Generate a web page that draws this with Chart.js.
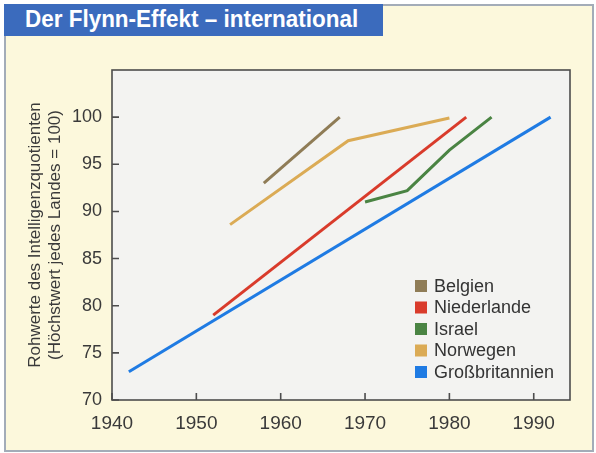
<!DOCTYPE html>
<html>
<head>
<meta charset="utf-8">
<script src="https://cdn.jsdelivr.net/npm/chart.js@4"></script>
<style>
  body { margin: 0; background: #ffffff; }
  #wrap { position: relative; width: 596px; height: 453px; overflow: hidden; }
  #panel { position: absolute; left: 4px; top: 4px; width: 586px; height: 444px;
           background: #fcf8dc; border: 2px solid #a3acb8; }
  #titlebar { position: absolute; left: 4px; top: 4px; width: 379px; height: 32px;
              background: #3b6bbd; }
  #titletext { position: absolute; left: 25px; top: 6px; color: #ffffff;
               font: bold 23px "Liberation Sans", Arial, sans-serif; white-space: nowrap;
               transform-origin: left top; }
  canvas { position: absolute; left: 0; top: 0; }
</style>
</head>
<body>
<div id="wrap">
  <div id="panel"></div>
  <div id="titlebar"></div>
  <div id="titletext">Der Flynn-Effekt – international</div>
  <canvas id="grafico" width="596" height="453"></canvas>
</div>
<script>
// Daten
const laender = ['Belgien', 'Niederlande', 'Israel', 'Norwegen', 'Großbritannien'];
const farben = ['#8f7c56', '#d93b2b', '#4a8443', '#dbab55', '#1f7be3'];

const belgienJahre = [1958, 1967];
const belgienWerte = [93, 100];
const niederlandeJahre = [1952, 1982];
const niederlandeWerte = [79, 100];
const israelJahre = [1970, 1975, 1980, 1985];
const israelWerte = [91, 92.2, 96.5, 100];
const norwegenJahre = [1954, 1968, 1980];
const norwegenWerte = [88.6, 97.5, 99.9];
const gbJahre = [1942, 1992];
const gbWerte = [73, 100];

const xTicks = [1940, 1950, 1960, 1970, 1980, 1990];
const yTicks = [70, 75, 80, 85, 90, 95, 100];

// Titel auf die Breite der Vorlage bringen
const titel = document.getElementById('titletext');
titel.style.transform = `scaleX(${333 / titel.offsetWidth})`;

const punkte = (jahre, werte) => jahre.map((j, i) => ({ x: j, y: werte[i] }));
const serien = [
  punkte(belgienJahre, belgienWerte),
  punkte(niederlandeJahre, niederlandeWerte),
  punkte(israelJahre, israelWerte),
  punkte(norwegenJahre, norwegenWerte),
  punkte(gbJahre, gbWerte)
];

// Hintergrund, Rahmen und nach innen zeigende Striche
const rahmenPlugin = {
  id: 'rahmen',
  beforeDatasetsDraw(chart) {
    const { ctx, chartArea: a } = chart;
    ctx.save();
    ctx.fillStyle = '#f3f3f1';
    ctx.fillRect(a.left, a.top, a.right - a.left, a.bottom - a.top);
    ctx.restore();
  },
  afterDraw(chart) {
    const { ctx, chartArea: a, scales } = chart;
    ctx.save();
    ctx.strokeStyle = '#4d4d4d';
    ctx.lineWidth = 1.6;
    ctx.strokeRect(a.left, a.top, a.right - a.left, a.bottom - a.top);
    ctx.beginPath();
    xTicks.forEach(t => {
      const px = scales.x.getPixelForValue(t);
      ctx.moveTo(px, a.bottom);
      ctx.lineTo(px, a.bottom - 7);
    });
    yTicks.forEach(t => {
      const py = scales.y.getPixelForValue(t);
      ctx.moveTo(a.left, py);
      ctx.lineTo(a.left + 7, py);
    });
    ctx.stroke();

    // Legende im Diagramm unten rechts
    ctx.font = '18px "Liberation Sans", Arial, sans-serif';
    ctx.textBaseline = 'middle';
    chart.data.datasets.forEach((ds, i) => {
      const y = a.bottom - 114 + i * 21.5;
      const x = a.right - 155;
      ctx.fillStyle = ds.borderColor;
      ctx.fillRect(x, y - 6, 12, 12);
      ctx.fillStyle = '#333333';
      ctx.fillText(ds.label, x + 19, y + 1);
    });
    ctx.restore();
  }
};

const ctx = document.getElementById('grafico').getContext('2d');
new Chart(ctx, {
  type: 'line',
  data: {
    datasets: laender.map((name, i) => ({
      label: name,
      data: serien[i],
      borderColor: farben[i],
      backgroundColor: farben[i],
      borderWidth: 3,
      pointRadius: 0,
      fill: false,
      tension: 0
    }))
  },
  options: {
    responsive: false,
    animation: false,
    layout: { padding: { top: 70, right: 26, left: 0, bottom: 0 } },
    plugins: {
      legend: { display: false },
      tooltip: { enabled: false }
    },
    scales: {
      x: {
        type: 'linear',
        min: 1940,
        max: 1994.3,
        afterFit: s => { s.height = 53; },
        afterBuildTicks: s => { s.ticks = xTicks.map(v => ({ value: v })); },
        grid: { display: false, drawTicks: false },
        border: { display: false },
        ticks: {
          padding: 12,
          color: '#3a3a3a',
          font: { family: '"Liberation Sans", Arial, sans-serif', size: 19 },
          callback: v => String(v)
        }
      },
      y: {
        min: 70,
        max: 105,
        afterFit: s => { s.width = 112; },
        afterBuildTicks: s => { s.ticks = yTicks.map(v => ({ value: v })); },
        grid: { display: false, drawTicks: false },
        border: { display: false },
        ticks: {
          padding: 10,
          color: '#3a3a3a',
          font: { family: '"Liberation Sans", Arial, sans-serif', size: 18 },
          callback: v => String(v)
        },
        title: {
          display: true,
          text: ['Rohwerte des Intelligenzquotienten', '(Höchstwert jedes Landes = 100)'],
          color: '#3a3a3a',
          font: { family: '"Liberation Sans", Arial, sans-serif', size: 17, lineHeight: 1.18 },
          padding: { top: 25, bottom: 0 }
        }
      }
    }
  },
  plugins: [rahmenPlugin]
});
</script>
</body>
</html>
